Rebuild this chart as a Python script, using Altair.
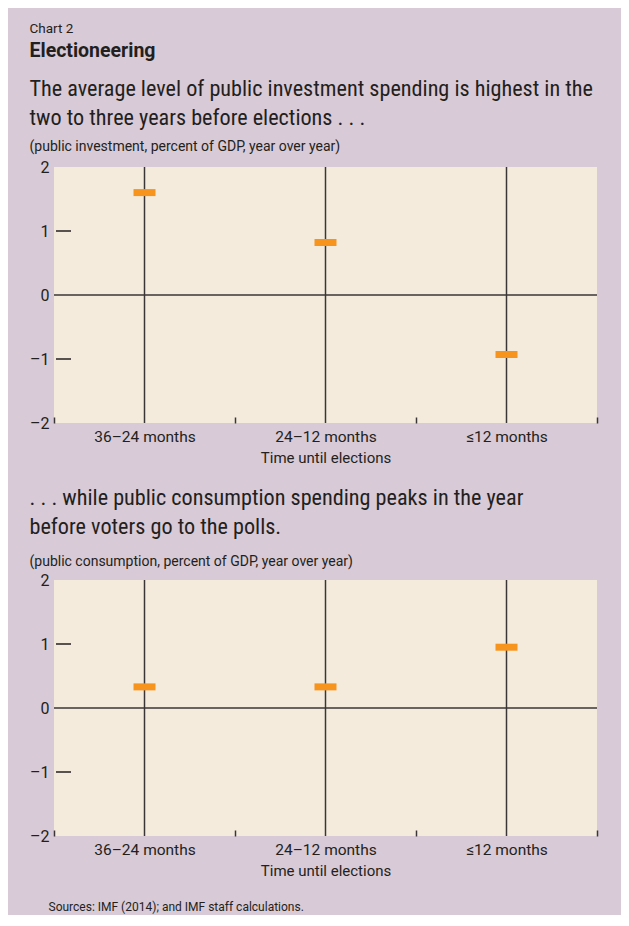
import altair as alt
import pandas as pd

categories = ["36–24 months", "24–12 months", "≤12 months"]
investment = [1.6, 0.82, -0.93]
consumption = [0.33, 0.33, 0.95]
y_ticks = [-2, -1, 0, 1, 2]
inner_ticks = [1, -1]

header_text = "Chart 2"
header_sub = "Electioneering"
desc1 = ["The average level of public investment spending is highest in the",
         "two to three years before elections . . ."]
unit1 = "(public investment, percent of GDP, year over year)"
desc2 = [". . . while public consumption spending peaks in the year",
         "before voters go to the polls."]
unit2 = "(public consumption, percent of GDP, year over year)"
source = "Sources: IMF (2014); and IMF staff calculations."
x_title = "Time until elections"

COND = "Roboto Condensed, DejaVu Sans Condensed, Liberation Sans Narrow, Roboto"
REG = "Roboto, Liberation Sans"
INK = "#231f20"
LINE = "#3a3536"
ORANGE = "#f7941d"
PLOT_BG = "#f4ebdd"
BG = "#d8cad6"

W, H = 543, 256


def panel(values, desc, unit, sub_pad, off):
    df = pd.DataFrame({"cat": categories, "val": values})
    cats = pd.DataFrame({"cat": categories})
    zero = pd.DataFrame({"z": [0]})
    itk = pd.DataFrame({"t": inner_ticks})

    xscale = alt.Scale(domain=categories, paddingInner=0, paddingOuter=0)
    yscale = alt.Scale(domain=[-2, 2], nice=False)

    x_enc = alt.X(
        "cat:N", scale=xscale, sort=categories, title=x_title,
        axis=alt.Axis(
            domain=False, grid=False, ticks=True, tickBand="extent",
            tickSize=6, tickWidth=1.5, tickColor=LINE, offset=-6,
            labelPadding=6, labelAngle=0, labelFontSize=15.5, labelFont=REG,
            labelColor=INK, titleFont=REG, titleFontSize=15,
            titleFontWeight="normal", titleColor=INK, titlePadding=6,
        ),
    )

    vlines = alt.Chart(cats).mark_rule(color=LINE, strokeWidth=1.5).encode(x=x_enc)
    zline = alt.Chart(zero).mark_rule(color=LINE, strokeWidth=1.5).encode(
        y=alt.Y("z:Q", scale=yscale,
                axis=alt.Axis(values=y_ticks, domain=False, ticks=False, grid=False,
                              format="d",
                              labelFontSize=16, labelFont=REG, labelColor=INK,
                              labelPadding=5,
                              labelExpr="replace(datum.label, '\u2212', '\u2013')"),
                title=None)
    )
    ytk = alt.Chart(itk).mark_rule(color=INK, strokeWidth=1.5).encode(
        y=alt.Y("t:Q", scale=yscale), x=alt.value(2), x2=alt.value(17)
    )
    marks = alt.Chart(df).mark_tick(color=ORANGE, size=22, thickness=7,
                                    orient="horizontal", opacity=1).encode(
        x=alt.X("cat:N", scale=xscale, sort=categories),
        y=alt.Y("val:Q", scale=yscale),
    )
    return alt.layer(vlines, zline, ytk, marks).properties(
        width=W, height=H,
        title=alt.TitleParams(
            text=desc, subtitle=unit, anchor="start", font=COND, fontSize=22.2,
            fontWeight="normal", color=INK, lineHeight=29,
            subtitleFont=REG, subtitleFontSize=14, subtitleColor=INK,
            subtitlePadding=sub_pad, offset=off,
        ),
    )


p1 = panel(investment, desc1, unit1, 11, 5)
p2 = panel(consumption, desc2, unit2, 17, 3)

inner = alt.vconcat(
    p1, p2, spacing=20,
    title=alt.TitleParams(
        text=header_text, subtitle=header_sub, anchor="start", font=REG,
        fontSize=13.5, fontWeight="normal", color=INK,
        subtitleFont=REG, subtitleFontSize=19.5, subtitleFontWeight="bold",
        subtitleColor=INK, subtitlePadding=7, offset=17,
    ),
)

chart = alt.vconcat(
    inner,
    title=alt.TitleParams(
        text=source, orient="bottom", anchor="start", font=REG, fontSize=12,
        fontWeight="normal", color=INK, dx=19, offset=23,
    ),
).properties(
    background=BG,
    padding={"left": 21, "top": 13, "right": 23, "bottom": 2},
).configure_view(
    fill=PLOT_BG, strokeWidth=0
).configure_concat(spacing=0)

chart.save("out.html", embed_options={"renderer": "svg", "actions": False})
